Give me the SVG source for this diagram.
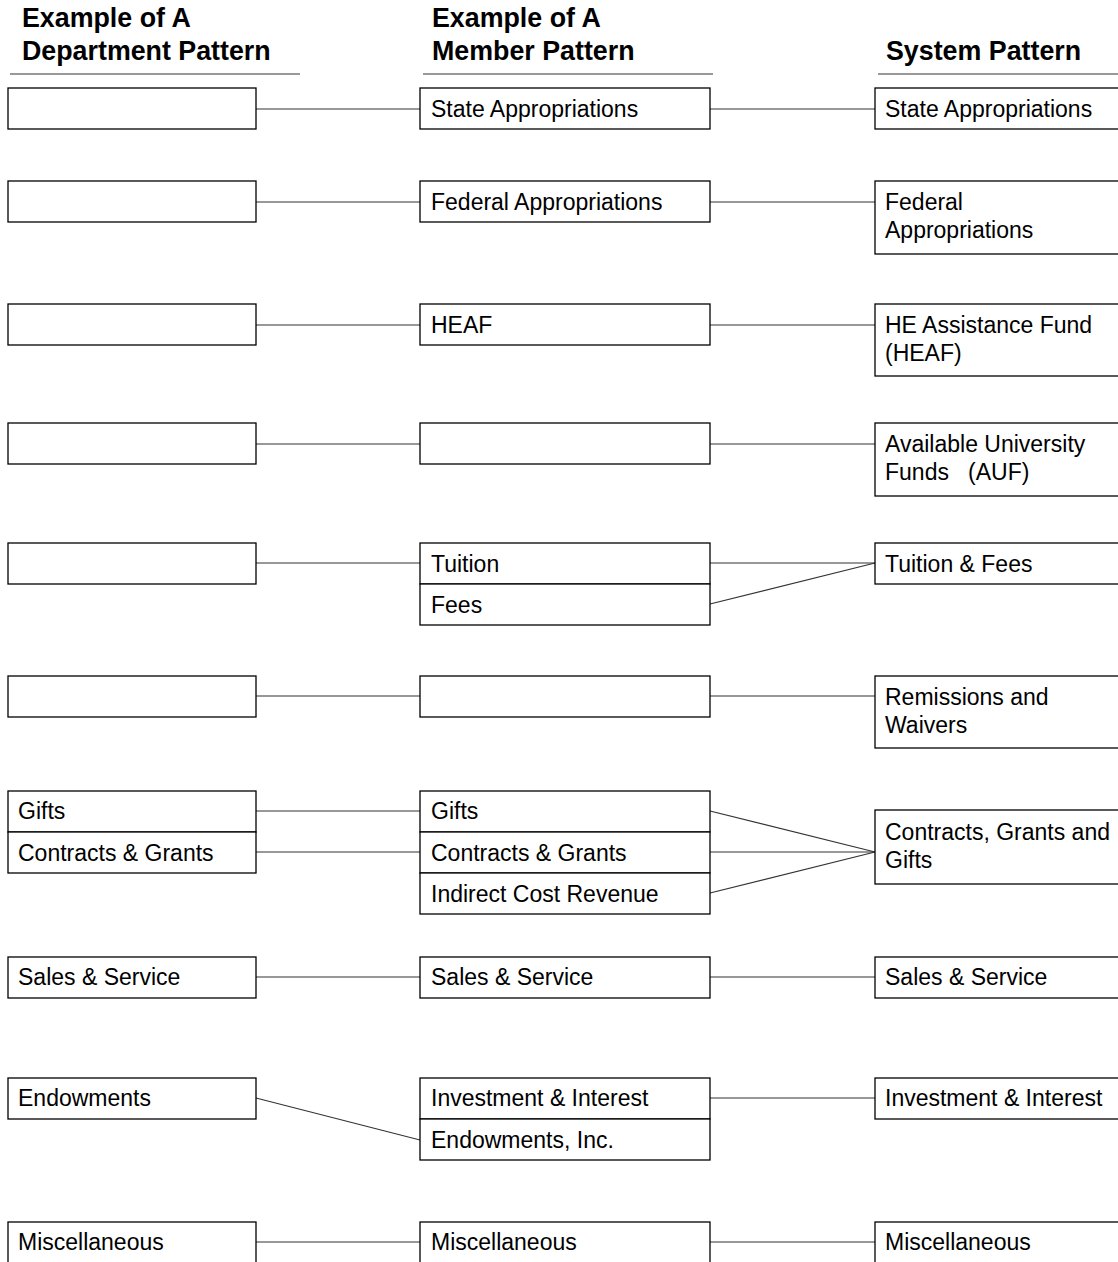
<svg xmlns="http://www.w3.org/2000/svg" width="1118" height="1262" viewBox="0 0 1118 1262">
<style>
.hd{font-family:"Liberation Sans",Arial,sans-serif;font-weight:bold;font-size:26.8px;fill:#000}
.hl{stroke:#777;stroke-width:1.5;fill:none}
.bx{fill:#fff;stroke:#000;stroke-width:1.3}
.t{font-family:"Liberation Sans",Arial,sans-serif;font-size:23px;fill:#000}
.c{stroke:#333;stroke-width:1.1;fill:none}
</style>
<rect width="1118" height="1262" fill="#fff"/>
<g id="headers">
<text class="hd" x="22" y="27">Example of A</text>
<text class="hd" x="22" y="60">Department Pattern</text>
<line class="hl" x1="10" y1="74" x2="300" y2="74"/>
<text class="hd" x="432" y="27">Example of A</text>
<text class="hd" x="432" y="60">Member Pattern</text>
<line class="hl" x1="423" y1="74" x2="713" y2="74"/>
<text class="hd" x="886" y="60">System Pattern</text>
<line class="hl" x1="878" y1="74" x2="1118" y2="74"/>
</g>
<g id="connectors">
<line class="c" x1="256" y1="109" x2="420" y2="109"/>
<line class="c" x1="710" y1="109" x2="875" y2="109"/>
<line class="c" x1="256" y1="202" x2="420" y2="202"/>
<line class="c" x1="710" y1="202" x2="875" y2="202"/>
<line class="c" x1="256" y1="325" x2="420" y2="325"/>
<line class="c" x1="710" y1="325" x2="875" y2="325"/>
<line class="c" x1="256" y1="444" x2="420" y2="444"/>
<line class="c" x1="710" y1="444" x2="875" y2="444"/>
<line class="c" x1="256" y1="563" x2="420" y2="563"/>
<line class="c" x1="710" y1="563" x2="875" y2="563"/>
<line class="c" x1="710" y1="604" x2="875" y2="563"/>
<line class="c" x1="256" y1="696" x2="420" y2="696"/>
<line class="c" x1="710" y1="696" x2="875" y2="696"/>
<line class="c" x1="256" y1="811" x2="420" y2="811"/>
<line class="c" x1="256" y1="852" x2="420" y2="852"/>
<line class="c" x1="710" y1="811" x2="875" y2="852"/>
<line class="c" x1="710" y1="852" x2="875" y2="852"/>
<line class="c" x1="710" y1="893" x2="875" y2="852"/>
<line class="c" x1="256" y1="977" x2="420" y2="977"/>
<line class="c" x1="710" y1="977" x2="875" y2="977"/>
<line class="c" x1="256" y1="1098" x2="420" y2="1140"/>
<line class="c" x1="710" y1="1098" x2="875" y2="1098"/>
<line class="c" x1="256" y1="1242" x2="420" y2="1242"/>
<line class="c" x1="710" y1="1242" x2="875" y2="1242"/>
</g>
<g id="dept1"><rect class="bx" x="8" y="88" width="248" height="41"/></g>
<g id="dept2"><rect class="bx" x="8" y="181" width="248" height="41"/></g>
<g id="dept3"><rect class="bx" x="8" y="304" width="248" height="41"/></g>
<g id="dept4"><rect class="bx" x="8" y="423" width="248" height="41"/></g>
<g id="dept5"><rect class="bx" x="8" y="543" width="248" height="41"/></g>
<g id="dept6"><rect class="bx" x="8" y="676" width="248" height="41"/></g>
<g id="dept-gifts"><rect class="bx" x="8" y="791" width="248" height="41"/><text class="t" x="18" y="819">Gifts</text></g>
<g id="dept-cg"><rect class="bx" x="8" y="832" width="248" height="41"/><text class="t" x="18" y="861">Contracts &amp; Grants</text></g>
<g id="dept-sales"><rect class="bx" x="8" y="957" width="248" height="41"/><text class="t" x="18" y="985">Sales &amp; Service</text></g>
<g id="dept-endow"><rect class="bx" x="8" y="1078" width="248" height="41"/><text class="t" x="18" y="1106">Endowments</text></g>
<g id="dept-misc"><rect class="bx" x="8" y="1222" width="248" height="41"/><text class="t" x="18" y="1250">Miscellaneous</text></g>

<g id="mem-state"><rect class="bx" x="420" y="88" width="290" height="41"/><text class="t" x="431" y="117">State Appropriations</text></g>
<g id="mem-fed"><rect class="bx" x="420" y="181" width="290" height="41"/><text class="t" x="431" y="210">Federal Appropriations</text></g>
<g id="mem-heaf"><rect class="bx" x="420" y="304" width="290" height="41"/><text class="t" x="431" y="333">HEAF</text></g>
<g id="mem4"><rect class="bx" x="420" y="423" width="290" height="41"/></g>
<g id="mem-tuition"><rect class="bx" x="420" y="543" width="290" height="41"/><text class="t" x="431" y="572">Tuition</text></g>
<g id="mem-fees"><rect class="bx" x="420" y="584" width="290" height="41"/><text class="t" x="431" y="613">Fees</text></g>
<g id="mem6"><rect class="bx" x="420" y="676" width="290" height="41"/></g>
<g id="mem-gifts"><rect class="bx" x="420" y="791" width="290" height="41"/><text class="t" x="431" y="819">Gifts</text></g>
<g id="mem-cg"><rect class="bx" x="420" y="832" width="290" height="41"/><text class="t" x="431" y="861">Contracts &amp; Grants</text></g>
<g id="mem-icr"><rect class="bx" x="420" y="873" width="290" height="41"/><text class="t" x="431" y="902">Indirect Cost Revenue</text></g>
<g id="mem-sales"><rect class="bx" x="420" y="957" width="290" height="41"/><text class="t" x="431" y="985">Sales &amp; Service</text></g>
<g id="mem-inv"><rect class="bx" x="420" y="1078" width="290" height="41"/><text class="t" x="431" y="1106">Investment &amp; Interest</text></g>
<g id="mem-endinc"><rect class="bx" x="420" y="1119" width="290" height="41"/><text class="t" x="431" y="1148">Endowments, Inc.</text></g>
<g id="mem-misc"><rect class="bx" x="420" y="1222" width="290" height="41"/><text class="t" x="431" y="1250">Miscellaneous</text></g>

<g id="sys-state"><rect class="bx" x="875" y="88" width="260" height="41"/><text class="t" x="885" y="117">State Appropriations</text></g>
<g id="sys-fed"><rect class="bx" x="875" y="181" width="260" height="73"/><text class="t" x="885" y="210">Federal</text><text class="t" x="885" y="238">Appropriations</text></g>
<g id="sys-heaf"><rect class="bx" x="875" y="304" width="260" height="72"/><text class="t" x="885" y="333">HE Assistance Fund</text><text class="t" x="885" y="361">(HEAF)</text></g>
<g id="sys-auf"><rect class="bx" x="875" y="423" width="260" height="73"/><text class="t" x="885" y="452">Available University</text><text class="t" x="885" y="480" xml:space="preserve">Funds   (AUF)</text></g>
<g id="sys-tuition"><rect class="bx" x="875" y="543" width="260" height="41"/><text class="t" x="885" y="572">Tuition &amp; Fees</text></g>
<g id="sys-rem"><rect class="bx" x="875" y="676" width="260" height="72"/><text class="t" x="885" y="705">Remissions and</text><text class="t" x="885" y="733">Waivers</text></g>
<g id="sys-cgg"><rect class="bx" x="875" y="810" width="260" height="74"/><text class="t" x="885" y="840">Contracts, Grants and</text><text class="t" x="885" y="868">Gifts</text></g>
<g id="sys-sales"><rect class="bx" x="875" y="957" width="260" height="41"/><text class="t" x="885" y="985">Sales &amp; Service</text></g>
<g id="sys-inv"><rect class="bx" x="875" y="1078" width="260" height="41"/><text class="t" x="885" y="1106">Investment &amp; Interest</text></g>
<g id="sys-misc"><rect class="bx" x="875" y="1222" width="260" height="41"/><text class="t" x="885" y="1250">Miscellaneous</text></g>
</svg>
